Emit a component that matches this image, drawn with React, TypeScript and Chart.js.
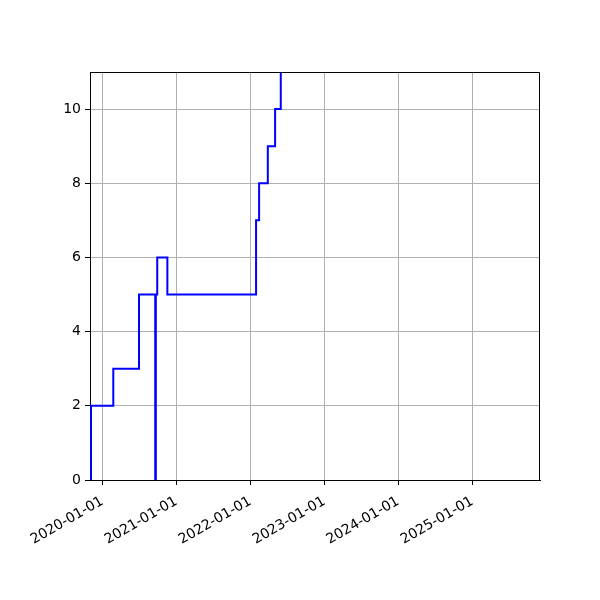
import { useEffect, useRef } from "react";
import { Chart, registerables } from "chart.js";

Chart.register(...registerables);

// step dates and the value held from each date on
const stepDates = [
  "2019-11-05",
  "2019-11-06",
  "2020-02-24",
  "2020-06-30",
  "2020-09-18",
  "2020-09-21",
  "2020-09-28",
  "2020-11-17",
  "2022-01-29",
  "2022-02-13",
  "2022-03-28",
  "2022-05-03",
  "2022-05-31",
];
const stepValues = [0, 2, 3, 5, 0, 5, 6, 5, 7, 8, 9, 10, 12];

const xTickLabels = [
  "2020-01-01",
  "2021-01-01",
  "2022-01-01",
  "2023-01-01",
  "2024-01-01",
  "2025-01-01",
];
const yTickValues = [0, 2, 4, 6, 8, 10];

const xStart = "2019-11-01";
const xEnd = "2025-12-01";
const yMax = 11;

const ms = (d: string) => Date.parse(d + "T00:00:00Z");

// top and right spines (Chart.js only draws the axis borders)
const frame = {
  id: "frame",
  afterDraw(chart: Chart) {
    const { ctx, chartArea } = chart;
    ctx.save();
    ctx.strokeStyle = "#000";
    ctx.lineWidth = 1;
    ctx.beginPath();
    ctx.moveTo(chartArea.left, chartArea.top + 0.5);
    ctx.lineTo(chartArea.right - 0.5, chartArea.top + 0.5);
    ctx.lineTo(chartArea.right - 0.5, chartArea.bottom);
    ctx.stroke();
    ctx.restore();
  },
};

export default function App() {
  const canvasRef = useRef<HTMLCanvasElement>(null);

  useEffect(() => {
    if (!canvasRef.current) return;
    const font = { family: "DejaVu Sans", size: 14 };
    const chart = new Chart(canvasRef.current, {
      type: "line",
      data: {
        datasets: [
          {
            data: stepDates.map((d, i) => ({ x: ms(d), y: stepValues[i] })),
            borderColor: "#0000ff",
            borderWidth: 2,
            pointRadius: 0,
            stepped: "before",
            fill: false,
            clip: 0,
          },
        ],
      },
      plugins: [frame],
      options: {
        animation: false,
        responsive: false,
        layout: { padding: { top: 72, right: 60, left: 0, bottom: 0 } },
        plugins: { legend: { display: false }, tooltip: { enabled: false } },
        scales: {
          x: {
            type: "linear",
            min: ms(xStart),
            max: ms(xEnd),
            afterBuildTicks: (s: any) => {
              s.ticks = xTickLabels.map((t) => ({ value: ms(t) }));
            },
            afterFit: (s: any) => {
              s.height = 120;
            },
            ticks: {
              callback: (v: any) => new Date(v).toISOString().slice(0, 10),
              minRotation: 30,
              maxRotation: 30,
              color: "#000",
              font,
              padding: 8,
            },
            grid: {
              color: "#b0b0b0",
              lineWidth: 1,
              tickColor: "#000",
              tickLength: 5,
            },
            border: { color: "#000", width: 1 },
          },
          y: {
            min: 0,
            max: yMax,
            afterBuildTicks: (s: any) => {
              s.ticks = yTickValues.map((v) => ({ value: v }));
            },
            afterFit: (s: any) => {
              s.width = 90;
            },
            ticks: { color: "#000", font, padding: 4 },
            grid: {
              color: "#b0b0b0",
              lineWidth: 1,
              tickColor: "#000",
              tickLength: 5,
            },
            border: { color: "#000", width: 1 },
          },
        },
      },
    });
    return () => chart.destroy();
  }, []);

  return (
    <div style={{ position: "fixed", left: 0, top: 0, width: 600, height: 600, background: "#fff" }}>
      <canvas ref={canvasRef} width={600} height={600} />
    </div>
  );
}
